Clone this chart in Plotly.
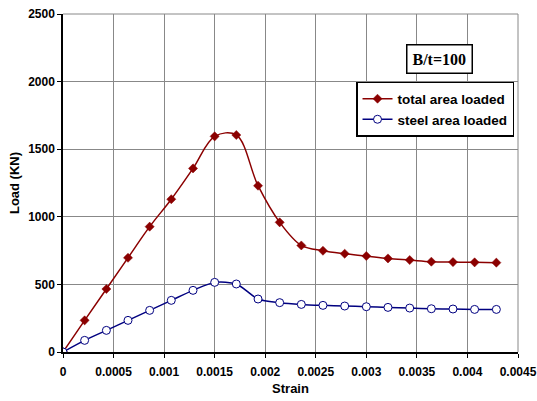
import plotly.graph_objects as go

strain = [0, 0.000214, 0.000429, 0.000643, 0.000857, 0.001071, 0.001286, 0.0015,
          0.001714, 0.001929, 0.002143, 0.002357, 0.002571, 0.002786, 0.003,
          0.003214, 0.003429, 0.003643, 0.003857, 0.004071, 0.004286]
total_load = [0, 234, 466, 697, 927, 1130, 1358, 1595, 1605, 1230, 959, 788, 749,
              727, 710, 692, 680, 668, 665, 663, 661]
steel_load = [0, 86, 160, 234, 308, 382, 456, 515, 503, 392, 365, 352, 345, 340,
              335, 330, 325, 320, 318, 315, 315]

x_ticks = [0, 0.0005, 0.001, 0.0015, 0.002, 0.0025, 0.003, 0.0035, 0.004, 0.0045]
x_labels = ["0", "0.0005", "0.001", "0.0015", "0.002", "0.0025", "0.003", "0.0035", "0.004", "0.0045"]
y_ticks = [0, 500, 1000, 1500, 2000, 2500]

FONT = "Liberation Sans, Arial, sans-serif"

fig = go.Figure()
fig.add_trace(go.Scatter(
    x=strain, y=total_load, name="total area loaded", mode="lines+markers",
    line=dict(color="#8B0000", width=1.5, shape="spline", smoothing=1.0),
    marker=dict(symbol="diamond", size=7, color="#8B0000", line=dict(color="#8B0000", width=0.5)),
))
fig.add_trace(go.Scatter(
    x=strain, y=steel_load, name="steel area loaded", mode="lines+markers",
    line=dict(color="#000080", width=1.5, shape="spline", smoothing=0.8),
    marker=dict(symbol="circle", size=8, color="white", line=dict(color="#000080", width=1)),
))

fig.update_layout(
    width=537, height=401,
    margin=dict(l=63, r=19, t=14, b=49),
    paper_bgcolor="white", plot_bgcolor="white",
    font=dict(family=FONT, size=11, color="black"),
    xaxis=dict(
        range=[0, 0.0045], tickvals=x_ticks, ticktext=x_labels, automargin=False,
        showgrid=True, gridcolor="#888888", gridwidth=1,
        showline=True, linecolor="black", linewidth=1.5,
        ticks="outside", ticklen=4, tickcolor="black", ticklabelstandoff=4,
        tickfont=dict(family=FONT, size=12, color="black", weight="bold"),
        title=dict(text="<b>Strain</b>", standoff=6,
                   font=dict(family=FONT, size=13, color="black")),
        zeroline=False, mirror=False,
    ),
    yaxis=dict(
        range=[0, 2500], tickvals=y_ticks, automargin=False,
        showgrid=True, gridcolor="#888888", gridwidth=1,
        showline=True, linecolor="black", linewidth=1.5,
        ticks="outside", ticklen=4, tickcolor="black",
        tickfont=dict(family=FONT, size=12, color="black", weight="bold"),
        title=dict(text="<b>Load (KN)</b>", standoff=6,
                   font=dict(family=FONT, size=13, color="black")),
        zeroline=False,
    ),
    legend=dict(
        x=0.644, y=0.799, xanchor="left", yanchor="top",
        bgcolor="white", bordercolor="black", borderwidth=1.5,
        font=dict(family=FONT, size=13.5, color="black", weight="bold"),
        itemwidth=30, tracegroupgap=2,
    ),
    showlegend=True,
)

fig.add_shape(type="line", xref="paper", yref="paper", x0=1, x1=1, y0=0, y1=1,
              line=dict(color="#888888", width=1))
fig.add_shape(type="line", xref="paper", yref="paper", x0=0, x1=1, y0=1, y1=1,
              line=dict(color="#888888", width=1))

fig.add_annotation(
    xref="paper", yref="paper", x=0.8275, y=0.868, xanchor="center", yanchor="middle",
    text="<b>B/t=100</b>", showarrow=False,
    font=dict(family="Liberation Serif, Times New Roman, serif", size=16, color="black"),
    bgcolor="white", bordercolor="black", borderwidth=1.5, borderpad=5,
)

fig.write_html("out.html")
